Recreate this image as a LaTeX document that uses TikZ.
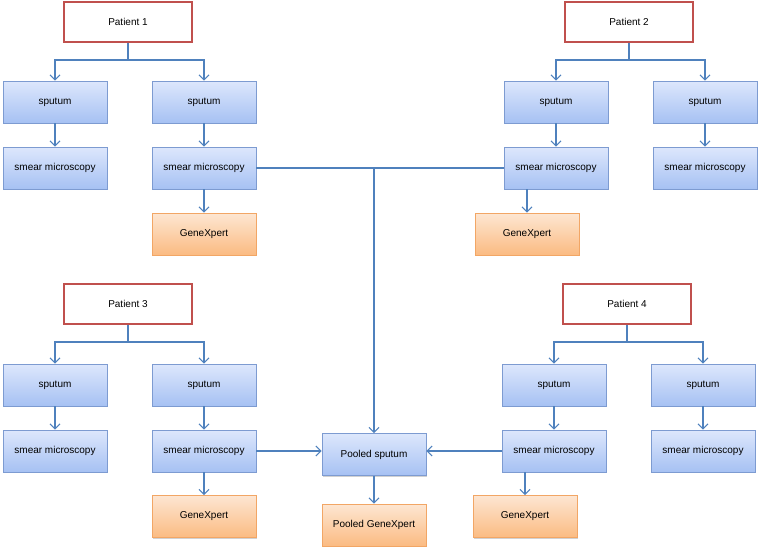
\documentclass[tikz,border=0pt]{standalone}
\usepackage{fontspec}
\setmainfont{Liberation Sans}
\usetikzlibrary{arrows.meta,shadows}
\definecolor{bluetop}{HTML}{DDE7FC}
\definecolor{bluebot}{HTML}{A6C1F3}
\definecolor{blueedge}{HTML}{7D9BD1}
\definecolor{orgtop}{HTML}{FDE6D2}
\definecolor{orgbot}{HTML}{FBBB82}
\definecolor{orgedge}{HTML}{F2A665}
\definecolor{rededge}{HTML}{C0504D}
\definecolor{linecol}{HTML}{4F81BD}
\tikzset{
  box/.style={minimum width=104pt,minimum height=42pt,inner sep=0pt,font=\fontsize{10}{12}\selectfont,
    drop shadow={shadow xshift=0.8pt,shadow yshift=-1.2pt,opacity=0.3,fill=black!60}},
  bluebox/.style={box,draw=blueedge,line width=0.8pt,top color=bluetop,bottom color=bluebot},
  orgbox/.style={box,draw=orgedge,line width=0.8pt,top color=orgtop,bottom color=orgbot},
  patbox/.style={minimum width=128pt,minimum height=40pt,inner sep=0pt,draw=rededge,line width=2.4pt,fill=white,font=\fontsize{10}{12}\selectfont},
  conn/.style={draw=linecol,line width=1.1pt},
  arr/.style={conn,-{Straight Barb[length=5pt,width=10pt,line width=1.1pt]}}
}
\begin{document}
\begin{tikzpicture}[x=1pt,y=-1pt]
\useasboundingbox (0,0) rectangle (760,549);
% Patient 1
\node[patbox] (P1) at (128,22) {Patient 1};
\node[bluebox] (S1a) at (55,102) {sputum};
\node[bluebox] (S1b) at (204,102) {sputum};
\node[bluebox] (M1a) at (55,168) {smear microscopy};
\node[bluebox] (M1b) at (204,168) {smear microscopy};
\node[orgbox] (G1) at (204,234) {GeneXpert};
\coordinate (B1) at (128,60);
% Patient 2
\node[patbox] (P2) at (629,22) {Patient 2};
\node[bluebox] (S2a) at (556,102) {sputum};
\node[bluebox] (S2b) at (705,102) {sputum};
\node[bluebox] (M2a) at (556,168) {smear microscopy};
\node[bluebox] (M2b) at (705,168) {smear microscopy};
\node[orgbox] (G2) at (527,234) {GeneXpert};
\coordinate (B2) at (629,60);
% Patient 3
\node[patbox] (P3) at (128,304) {Patient 3};
\node[bluebox] (S3a) at (55,385) {sputum};
\node[bluebox] (S3b) at (204,385) {sputum};
\node[bluebox] (M3a) at (55,451) {smear microscopy};
\node[bluebox] (M3b) at (204,451) {smear microscopy};
\node[orgbox] (G3) at (204,516.5) {GeneXpert};
\coordinate (B3) at (128,342);
% Patient 4
\node[patbox] (P4) at (627,304) {Patient 4};
\node[bluebox] (S4a) at (554,385) {sputum};
\node[bluebox] (S4b) at (703,385) {sputum};
\node[bluebox] (M4a) at (554,451) {smear microscopy};
\node[bluebox] (M4b) at (703,451) {smear microscopy};
\node[orgbox] (G4) at (525,516.5) {GeneXpert};
\coordinate (B4) at (627,342);
% Pooled
\node[bluebox] (PS) at (374,454.5) {Pooled sputum};
\node[orgbox] (PG) at (374,525) {Pooled GeneXpert};
% connectors patient 1
\draw[conn] (P1.south) -- (B1);
\draw[arr] (B1) -| (S1a.north);
\draw[arr] (B1) -| (S1b.north);
\draw[arr] (S1a) -- (M1a);
\draw[arr] (S1b) -- (M1b);
\draw[arr] (M1b) -- (G1);
% patient 2
\draw[conn] (P2.south) -- (B2);
\draw[arr] (B2) -| (S2a.north);
\draw[arr] (B2) -| (S2b.north);
\draw[arr] (S2a) -- (M2a);
\draw[arr] (S2b) -- (M2b);
\draw[arr] (G2.north |- M2a.south) -- (G2.north);
% patient 3
\draw[conn] (P3.south) -- (B3);
\draw[arr] (B3) -| (S3a.north);
\draw[arr] (B3) -| (S3b.north);
\draw[arr] (S3a) -- (M3a);
\draw[arr] (S3b) -- (M3b);
\draw[arr] (M3b) -- (G3);
% patient 4
\draw[conn] (P4.south) -- (B4);
\draw[arr] (B4) -| (S4a.north);
\draw[arr] (B4) -| (S4b.north);
\draw[arr] (S4a) -- (M4a);
\draw[arr] (S4b) -- (M4b);
\draw[arr] (G4.north |- M4a.south) -- (G4.north);
% pooling
\coordinate (J) at (PS.north |- M1b.east);
\draw[conn] (M1b.east) -- (M2a.west);
\draw[arr] (J) -- (PS.north);
\draw[arr] (M3b.east) -- (PS.west |- M3b.east);
\draw[arr] (M4a.west) -- (PS.east |- M4a.west);
\draw[arr] (PS) -- (PG);
\end{tikzpicture}
\end{document}
